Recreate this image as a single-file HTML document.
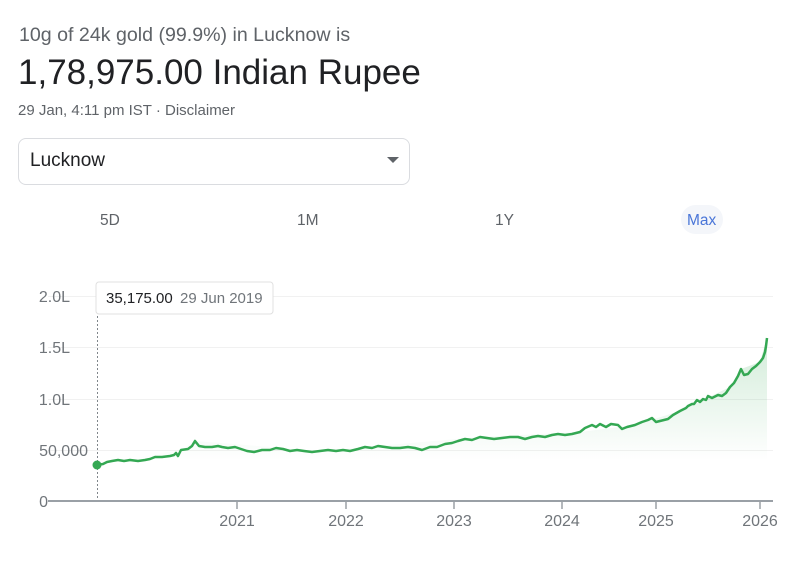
<!DOCTYPE html>
<html><head><meta charset="utf-8"><style>
body{margin:0;width:805px;height:570px;background:#fff;font-family:"Liberation Sans",Arial,sans-serif;position:relative;overflow:hidden}
.a{position:absolute;white-space:nowrap}
</style></head><body>
<div class="a" style="left:19px;top:24px;font-size:19.6px;color:#5f6368">10g of 24k gold (99.9%) in Lucknow is</div>
<div class="a" style="left:18px;top:53px;font-size:35px;color:#202124">1,78,975.00 Indian Rupee</div>
<div class="a" style="left:18px;top:102px;font-size:15px;color:#5f6368">29 Jan, 4:11 pm IST · Disclaimer</div>
<div class="a" style="left:18px;top:138px;width:390px;height:45px;border:1px solid #dadce0;border-radius:8px"></div>
<div class="a" style="left:30px;top:150px;font-size:19px;color:#202124">Lucknow</div>
<div class="a" style="left:387px;top:157px;width:0;height:0;border-left:6px solid transparent;border-right:6px solid transparent;border-top:6px solid #5f6368"></div>
<div class="a" style="left:100px;top:212px;font-size:15.5px;color:#5f6368">5D</div>
<div class="a" style="left:297px;top:212px;font-size:15.5px;color:#5f6368">1M</div>
<div class="a" style="left:495px;top:212px;font-size:15.5px;color:#5f6368">1Y</div>
<div class="a" style="left:681px;top:205px;width:42px;height:29px;border-radius:15px;background:#f4f6fa"></div>
<div class="a" style="left:687px;top:212px;font-size:15.5px;color:#4a76d8">Max</div>
<svg class="a" style="left:0;top:0" width="805" height="570">
<defs><linearGradient id="g" x1="0" y1="0" x2="0" y2="1"><stop offset="0" stop-color="#34a853" stop-opacity="0.22"/><stop offset="0.75" stop-color="#34a853" stop-opacity="0"/></linearGradient></defs>
<g stroke="#f1f1f1" stroke-width="1">
<line x1="48" x2="773" y1="296.5" y2="296.5"/><line x1="48" x2="773" y1="347.5" y2="347.5"/><line x1="48" x2="773" y1="399.5" y2="399.5"/><line x1="48" x2="773" y1="450.5" y2="450.5"/></g>
<g font-size="16" fill="#70757a" text-anchor="end">
<text x="70" y="302">2.0L</text><text x="70" y="353">1.5L</text><text x="70" y="405">1.0L</text><text x="88" y="456">50,000</text><text x="48" y="507">0</text></g>
<line x1="48" x2="773" y1="501" y2="501" stroke="#9aa0a6" stroke-width="2"/>
<g stroke="#9aa0a6" stroke-width="1.5"><line x1="237" x2="237" y1="501" y2="509"/><line x1="346" x2="346" y1="501" y2="509"/><line x1="454" x2="454" y1="501" y2="509"/><line x1="562" x2="562" y1="501" y2="509"/><line x1="656" x2="656" y1="501" y2="509"/><line x1="760" x2="760" y1="501" y2="509"/></g>
<g font-size="16" fill="#70757a" text-anchor="middle"><text x="237" y="526">2021</text><text x="346" y="526">2022</text><text x="454" y="526">2023</text><text x="562" y="526">2024</text><text x="656" y="526">2025</text><text x="760" y="526">2026</text></g>
<path d="M97,465 L103,464 L107,462 L112,461 L118,460 L124,461 L130,460 L138,461 L145,460 L150,459 L155,457 L162,457 L170,456 L174,455 L176,453 L178,456 L181,450 L188,449 L192,446 L195,441 L199,446 L205,447 L212,447 L218,446 L222,447 L228,448 L235,447 L241,449 L247,451 L254,452 L262,450 L270,450 L276,448 L283,449 L290,451 L297,450 L304,451 L312,452 L320,451 L328,450 L336,451 L343,450 L350,451 L358,449 L365,447 L372,448 L378,446 L385,447 L392,448 L400,448 L408,447 L415,448 L422,450 L430,447 L437,447 L445,444 L452,443 L458,441 L465,439 L472,440 L480,437 L487,438 L494,439 L502,438 L510,437 L518,437 L525,439 L532,437 L538,436 L545,437 L552,435 L558,434 L565,435 L572,434 L580,432 L585,428 L592,425 L596,427 L600,424 L606,427 L611,424 L618,425 L622,429 L627,427 L635,425 L642,422 L648,420 L652,418 L656,422 L660,421 L668,419 L673,415 L680,411 L686,408 L688,406 L692,404 L694,404 L697,400 L700,402 L703,399 L706,400 L708,396 L712,398 L718,395 L722,396 L726,393 L730,387 L734,383 L738,376 L741,369 L744,375 L748,374 L752,369 L756,366 L760,362 L763,358 L765,352 L766,346 L767,338" fill="none" stroke="#34a853" stroke-width="2.5" stroke-linejoin="round"/>
<path d="M97,465 L181,450 L195,441 L320,451 L480,437 L580,432 L635,425 L680,411 L730,387 L741,369 L760,362 L767,338 L767,501 L97,501 Z" fill="url(#g)"/>
<line x1="97.5" x2="97.5" y1="316" y2="500" stroke="#80868b" stroke-dasharray="2,2"/>
<circle cx="97" cy="465" r="4.5" fill="#34a853"/>
<rect x="96" y="282" width="177" height="32" rx="3" fill="#fff" stroke="#e0e0e0"/>
<text x="106" y="303" font-size="15" fill="#202124">35,175.00</text>
<text x="180" y="303" font-size="15" fill="#70757a">29 Jun 2019</text>
</svg>
</body></html>
